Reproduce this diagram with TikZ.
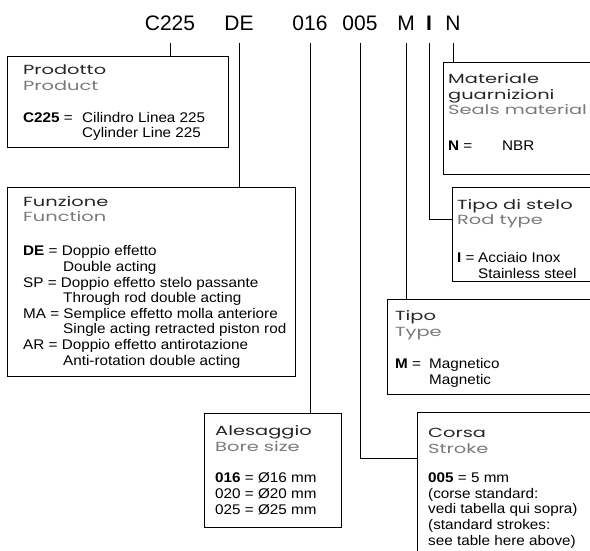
\documentclass[tikz,border=0pt]{standalone}
\usepackage{fontspec}
\setmainfont{Liberation Sans}
\newfontfamily\bodyfont[FakeStretch=1.09]{Liberation Sans}
\newfontfamily\headfont[FakeStretch=1.47]{Poppins}
\definecolor{subgray}{HTML}{7A7A7A}
\definecolor{headgray}{HTML}{262626}
\usetikzlibrary{positioning}

\begin{document}
\begin{tikzpicture}[
    x=1pt, y=-1pt,
    code/.style={font=\fontsize{21}{21}\selectfont, anchor=base, inner xsep=0pt, inner ysep=12pt, text depth=0pt},
    frame/.style={draw, line width=1.3pt, anchor=north west, inner sep=0pt},
    title/.style={anchor=base west, inner sep=0pt, align=left, text=headgray, font=\headfont\fontsize{13.2}{16}\selectfont},
    body/.style={anchor=base west, inner sep=0pt, align=left, font=\bodyfont\fontsize{14}{15.6}\selectfont},
    lead/.style={line width=0.9pt}
  ]
    \useasboundingbox (0,0) rectangle (590,551);
    \clip (0,0) rectangle (590,551);

    \node[code] (c225) at (170,31) {C225};
    \node[code] (cde) at (239,31) {DE};
    \node[code] (c016) at (310,31) {016};
    \node[code] (c005) at (360,31) {005};
    \node[code] (cm) at (406,31) {M};
    \node[code] (ci) at (429,31) {\textbf{I}};
    \node[code] (cn) at (453,31) {N};

    \node[frame, minimum width=221pt, minimum height=91pt] (prodotto) at (7,56) {};
    \node[frame, minimum width=288pt, minimum height=189pt] (funzione) at (7,187) {};
    \node[frame, minimum width=200pt, minimum height=112pt] (materiale) at (443,62) {};
    \node[frame, minimum width=200pt, minimum height=94pt] (stelo) at (452,187) {};
    \node[frame, minimum width=250pt, minimum height=95pt] (tipo) at (387,299) {};
    \node[frame, minimum width=137pt, minimum height=114pt] (alesaggio) at (204,413) {};
    \node[frame, minimum width=200pt, minimum height=200pt] (corsa) at (417,412) {};

    \node[title] (prodottot) at (23,91) {Prodotto\\\textcolor{subgray}{Product}};
    \node[body] (prodottob) at (23,138) {\makebox[59pt][l]{\textbf{C225} =}Cilindro Linea 225\\\hspace*{59pt}Cylinder Line 225};

    \node[title] (funzionet) at (23,222) {Funzione\\\textcolor{subgray}{Function}};
    \node[body] (funzioneb) at (23,365) {\textbf{DE} = Doppio effetto\\\hspace*{40pt}Double acting\\SP = Doppio effetto stelo passante\\\hspace*{40pt}Through rod double acting\\MA = Semplice effetto molla anteriore\\\hspace*{40pt}Single acting retracted piston rod\\AR = Doppio effetto antirotazione\\\hspace*{40pt}Anti-rotation double acting};

    \node[title] (materialet) at (448,115) {Materiale\\guarnizioni\\\textcolor{subgray}{Seals material}};
    \node[body] (materialeb) at (448,150) {\makebox[54pt][l]{\textbf{N} =}NBR};

    \node[title] (stelot) at (457,225) {Tipo di stelo\\\textcolor{subgray}{Rod type}};
    \node[body] (stelob) at (457,278) {\makebox[21pt][l]{\textbf{I} =}Acciaio Inox\\\hspace*{21pt}Stainless steel};

    \node[title] (tipot) at (395,336) {Tipo\\\textcolor{subgray}{Type}};
    \node[body] (tipob) at (395,384) {\makebox[34pt][l]{\textbf{M} =}Magnetico\\\hspace*{34pt}Magnetic};

    \node[title] (alesaggiot) at (215,451) {Alesaggio\\\textcolor{subgray}{Bore size}};
    \node[body] (alesaggiob) at (215,514) {\textbf{016} = Ø16 mm\\020 = Ø20 mm\\025 = Ø25 mm};

    \node[title] (corsat) at (428,453) {Corsa\\\textcolor{subgray}{Stroke}};
    \node[body] (corsab) at (428,545) {\textbf{005} = 5 mm\\(corse standard:\\vedi tabella qui sopra)\\(standard strokes:\\see table here above)};

    \draw[lead] (c225.south) -- (c225.south |- prodotto.north);
    \draw[lead] (cde.south) -- (cde.south |- funzione.north);
    \draw[lead] (c016.south) -- (c016.south |- alesaggio.north);
    \draw[lead] (c005.south) |- ([yshift=-46pt]corsa.north west);
    \draw[lead] (cm.south) -- (cm.south |- tipo.north);
    \draw[lead] (ci.south) |- ([yshift=-32pt]stelo.north west);
    \draw[lead] (cn.south) -- (cn.south |- materiale.north);
  \end{tikzpicture}
\end{document}
